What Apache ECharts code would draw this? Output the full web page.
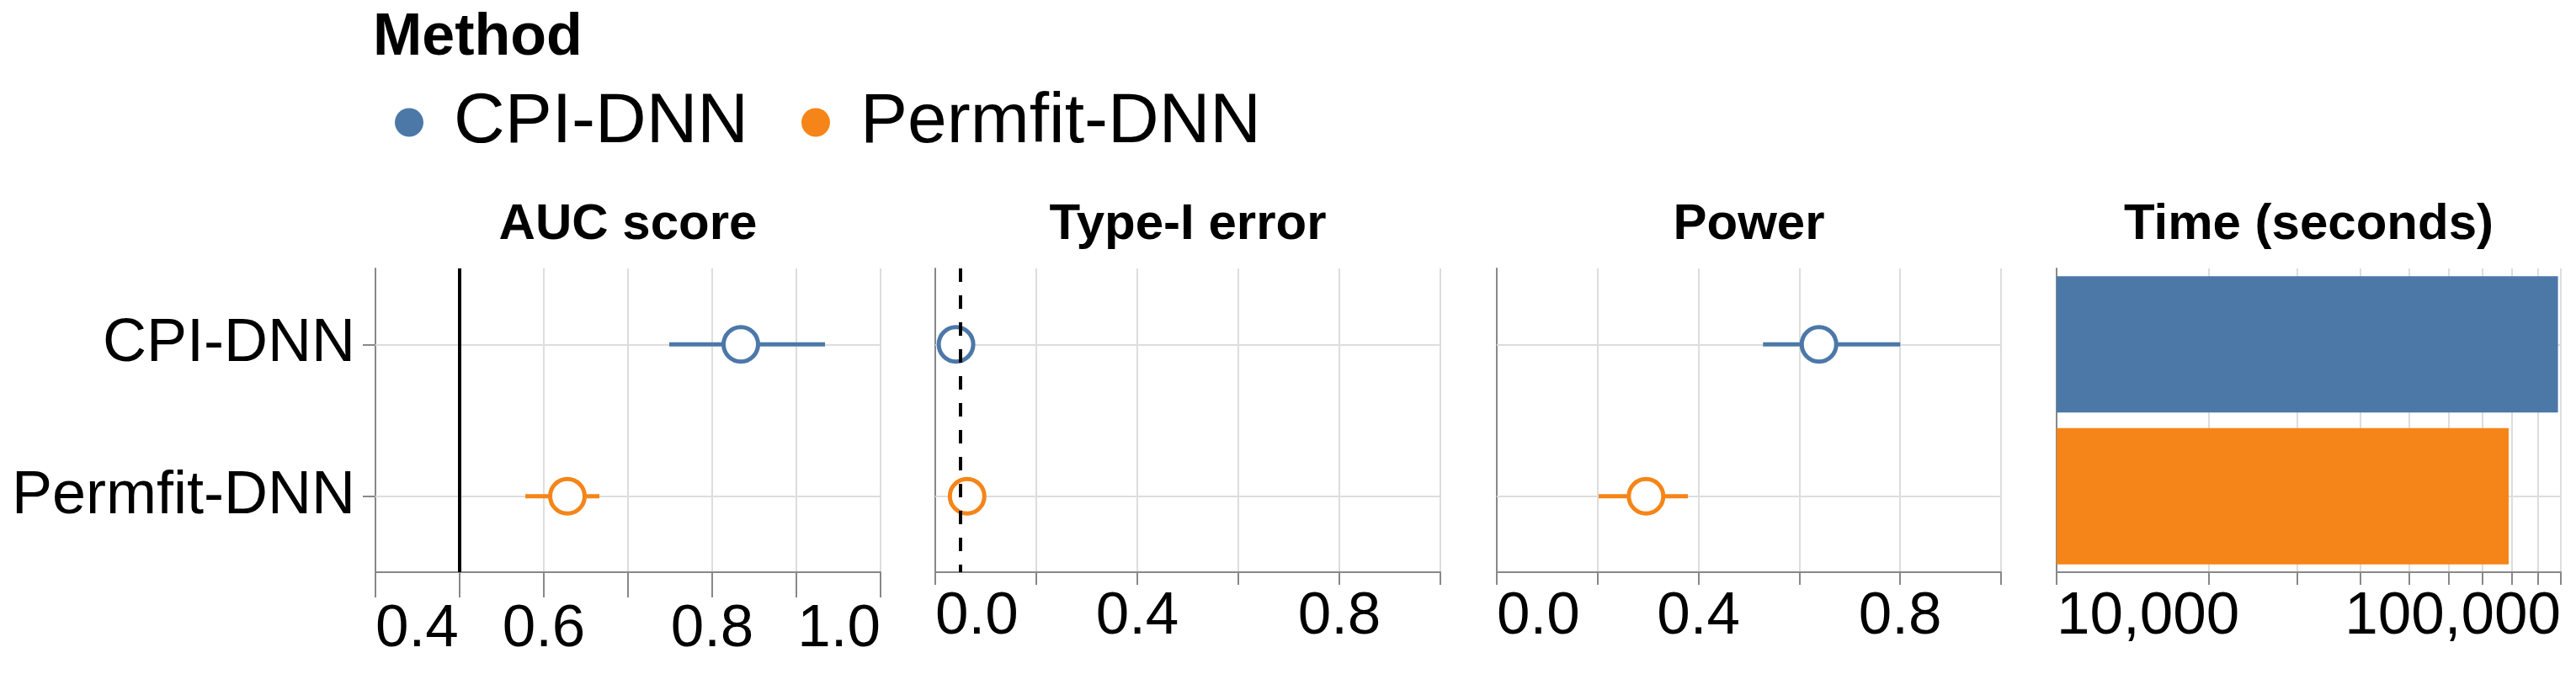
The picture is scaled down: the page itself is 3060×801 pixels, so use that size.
<!DOCTYPE html>
<html><head><meta charset="utf-8">
<script src="https://cdn.jsdelivr.net/npm/echarts@6/dist/echarts.min.js"></script>
<style>html,body{margin:0;padding:0;background:#fff}#c{width:3060px;height:801px}</style>
</head><body><div id="c"></div>
<script>
const methods = ['CPI-DNN', 'Permfit-DNN'];
const methodColors = ['#4c78a8', '#f58518'];
const panelTitles = ['AUC score', 'Type-I error', 'Power', 'Time (seconds)'];
const aucMean = [0.834, 0.628];
const aucLow = [0.749, 0.578];
const aucHigh = [0.934, 0.666];
const type1Mean = [0.041, 0.063];
const powerMean = [0.639, 0.296];
const powerLow = [0.528, 0.202];
const powerHigh = [0.800, 0.379];
const timeSeconds = [98700, 78800];
const aucRef = 0.5;
const type1Ref = 0.05;
const aucTickLabels = [0.4, 0.6, 0.8, 1.0];
const rateTickLabels = [0.0, 0.4, 0.8];
const timeTicks = [10000, 20000, 30000, 40000, 50000, 60000, 70000, 80000, 90000, 100000];
const timeTickLabels = [10000, 100000];

const FONT = 'Liberation Sans, Arial, Helvetica, sans-serif';
const gridLefts = [446, 1111, 1778, 2443];
const gridWidths = [600, 600, 599, 599];
const AXIS = '#888', GRID = '#ddd';

const chart = echarts.init(document.getElementById('c'));

const axisLine = {show: true, onZero: false, lineStyle: {color: AXIS, width: 2}};
const splitLine = {show: true, lineStyle: {color: GRID, width: 2}};
function labelBase(margin) {
  return {fontSize: 71, color: '#000', fontFamily: FONT, margin: margin, verticalAlign: 'middle'};
}

const xAxis = [
  {type: 'value', gridIndex: 0, min: 0.4, max: 1.0, interval: 0.1, axisLine, splitLine,
   axisTick: {show: true, length: 30, lineStyle: {color: AXIS, width: 2}},
   axisLabel: Object.assign(labelBase(68), {customValues: aucTickLabels, formatter: v => Number(v).toFixed(1), alignMinLabel: 'left', alignMaxLabel: 'right'})},
  {type: 'value', gridIndex: 1, min: 0, max: 1, interval: 0.2, axisLine, splitLine,
   axisTick: {show: true, length: 15, lineStyle: {color: AXIS, width: 2}},
   axisLabel: Object.assign(labelBase(53), {customValues: rateTickLabels, formatter: v => Number(v).toFixed(1), alignMinLabel: 'left'})},
  {type: 'value', gridIndex: 2, min: 0, max: 1, interval: 0.2, axisLine, splitLine,
   axisTick: {show: true, length: 15, lineStyle: {color: AXIS, width: 2}},
   axisLabel: Object.assign(labelBase(53), {customValues: rateTickLabels, formatter: v => Number(v).toFixed(1), alignMinLabel: 'left'})},
  {type: 'log', logBase: 10, gridIndex: 3, min: 10000, max: 100000, startValue: 10000, axisLine, splitLine,
   axisTick: {show: true, length: 15, customValues: timeTicks, lineStyle: {color: AXIS, width: 2}},
   axisLabel: Object.assign(labelBase(53), {customValues: timeTickLabels, formatter: v => Math.round(Number(v)).toLocaleString('en-US'), alignMinLabel: 'left', alignMaxLabel: 'right'})}
];

const yAxis = [0, 1, 2, 3].map(i => ({
  type: 'category', gridIndex: i, data: methods, inverse: true,
  axisLine: {show: true, lineStyle: {color: AXIS, width: 2}},
  axisTick: {show: i === 0, alignWithLabel: true, length: 15, lineStyle: {color: AXIS, width: 2}},
  axisLabel: {show: i === 0, fontSize: 72, color: '#000', fontFamily: FONT, margin: 24, verticalAlign: 'middle', padding: [0, 0, 13, 0]},
  splitLine: {show: false}
}));

const series = [];
// horizontal row gridlines in each panel (beneath marks)
for (let p = 0; p < 4; p++) {
  series.push({type: 'scatter', xAxisIndex: p, yAxisIndex: p, data: [], z: 1, silent: true,
    markLine: {z: 1, silent: true, symbol: 'none', label: {show: false}, animation: false,
      lineStyle: {color: GRID, width: 2, type: 'solid'},
      emphasis: {disabled: true},
      data: methods.map(m => ({yAxis: m}))}});
}
// error bars
function errorBars(p, lo, hi) {
  methods.forEach((m, i) => {
    series.push({type: 'line', name: m, xAxisIndex: p, yAxisIndex: p, symbol: 'none', z: 2, silent: true,
      lineStyle: {color: methodColors[i], width: 5}, data: [[lo[i], m], [hi[i], m]]});
  });
}
errorBars(0, aucLow, aucHigh);
errorBars(2, powerLow, powerHigh);
// points
function points(p, vals) {
  methods.forEach((m, i) => {
    series.push({type: 'scatter', name: m, xAxisIndex: p, yAxisIndex: p, z: 3, silent: true,
      symbol: 'circle', symbolSize: 41,
      itemStyle: {color: '#fff', borderColor: methodColors[i], borderWidth: 5, opacity: 1},
      data: [[vals[i], m]]});
  });
}
points(0, aucMean);
points(1, type1Mean);
points(2, powerMean);
// reference lines (above points)
series.push({type: 'scatter', xAxisIndex: 0, yAxisIndex: 0, data: [], z: 6, silent: true,
  markLine: {z: 6, silent: true, symbol: 'none', label: {show: false}, animation: false,
    lineStyle: {color: '#000', width: 4, type: 'solid'}, data: [{xAxis: aucRef}]}});
series.push({type: 'scatter', xAxisIndex: 1, yAxisIndex: 1, data: [], z: 6, silent: true,
  markLine: {z: 6, silent: true, symbol: 'none', label: {show: false}, animation: false,
    lineStyle: {color: '#000', width: 4, type: [16, 16]}, data: [{xAxis: type1Ref}]}});
// time bars
series.push({type: 'bar', name: 'Time', xAxisIndex: 3, yAxisIndex: 3, z: 2, silent: true,
  barWidth: 162, clip: true,
  data: timeSeconds.map((v, i) => ({value: v, itemStyle: {color: methodColors[i]}}))});

const option = {
  animation: false,
  backgroundColor: '#fff',
  textStyle: {fontFamily: FONT},
  grid: gridLefts.map((l, i) => ({left: l, top: 319, width: gridWidths[i], height: 361, containLabel: false})),
  title: [
    {text: 'Method', left: 443, top: 11, padding: 0,
     textStyle: {fontSize: 70, fontWeight: 'bold', lineHeight: 70, color: '#000', fontFamily: FONT}}
  ].concat(panelTitles.map((t, i) => ({
    text: t, left: gridLefts[i] + gridWidths[i] / 2, textAlign: 'center', top: 237.5, padding: 0,
    textStyle: {fontSize: 60, fontWeight: 'bold', lineHeight: 60, color: '#000', fontFamily: FONT}
  }))),
  legend: {
    left: 469, top: 97, padding: 0, itemWidth: 34, itemHeight: 34, itemGap: 63, icon: 'circle', selectedMode: false,
    data: methods.map((m, i) => ({name: m, icon: 'circle', itemStyle: {color: methodColors[i], borderWidth: 0}})),
    textStyle: {fontSize: 84, color: '#000', fontFamily: FONT, lineHeight: 84, padding: [0, 0, 13, 31]}
  },
  xAxis, yAxis, series
};
chart.setOption(option);
</script>
</body></html>
